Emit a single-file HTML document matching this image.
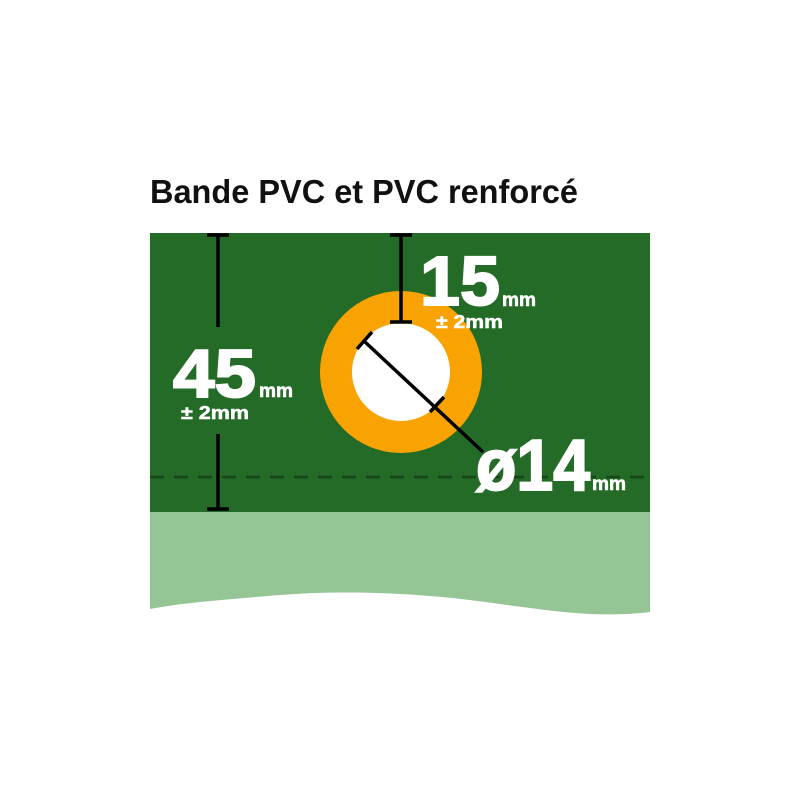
<!DOCTYPE html>
<html><head><meta charset="utf-8"><style>html,body{margin:0;padding:0;background:#fff}svg{display:block}</style></head>
<body>
<svg width="800" height="800" viewBox="0 0 800 800" xmlns="http://www.w3.org/2000/svg" font-family="Liberation Sans, sans-serif" font-weight="bold">
<rect width="800" height="800" fill="#fff"/>
<text x="150" y="203" font-size="33" fill="#111" textLength="428" lengthAdjust="spacingAndGlyphs">Bande PVC et PVC renforcé</text>
<path d="M150 512 H650 V612 C600 618 560 612 500 604 C420 592 340 590 280 595 C220 600 180 603 150 609 Z" fill="#95c595"/>
<rect x="150" y="233" width="500" height="279" fill="#236b26"/>
<line x1="150" y1="477" x2="650" y2="477" stroke="#17441a" stroke-width="2.5" stroke-dasharray="14,10"/>
<circle cx="401" cy="372" r="81" fill="#f9a303"/>
<circle cx="401" cy="372" r="49" fill="#fff"/>
<g stroke="#000" stroke-width="3.5" fill="none">
<line x1="218" y1="235" x2="218" y2="327"/><line x1="218" y1="434" x2="218" y2="509"/>
<line x1="207" y1="235" x2="229" y2="235"/><line x1="207" y1="509" x2="229" y2="509"/>
<line x1="401" y1="235" x2="401" y2="322"/>
<line x1="390" y1="235" x2="412" y2="235"/><line x1="390" y1="322" x2="412" y2="322"/>
<line x1="364" y1="341" x2="483" y2="452"/>
<line x1="357" y1="349" x2="372" y2="332"/>
<line x1="430" y1="412" x2="444" y2="397"/>
</g>
<g fill="#fff" stroke="#fff">
<text x="173" y="397" font-size="68" stroke-width="2" textLength="83" lengthAdjust="spacingAndGlyphs">45</text>
<text x="259" y="397" font-size="19" stroke-width="0.6" textLength="34" lengthAdjust="spacingAndGlyphs">mm</text>
<text x="181" y="419" font-size="18" stroke-width="0.5" textLength="68" lengthAdjust="spacingAndGlyphs">± 2mm</text>
<text x="420" y="305" font-size="70" stroke-width="2" textLength="80" lengthAdjust="spacingAndGlyphs">15</text>
<text x="502" y="306" font-size="19" stroke-width="0.6" textLength="34" lengthAdjust="spacingAndGlyphs">mm</text>
<text x="436" y="328" font-size="18" stroke-width="0.5" textLength="67" lengthAdjust="spacingAndGlyphs">± 2mm</text>
<text x="476" y="490" font-size="72" stroke-width="2" textLength="114" lengthAdjust="spacingAndGlyphs">ø14</text>
<text x="592" y="490" font-size="19" stroke-width="0.6" textLength="34" lengthAdjust="spacingAndGlyphs">mm</text>
</g>
</svg>
</body></html>
